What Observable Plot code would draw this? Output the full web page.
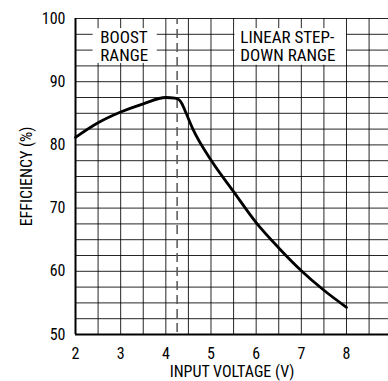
<!DOCTYPE html>
<html>
<head>
<meta charset="utf-8">
<script src="https://cdn.jsdelivr.net/npm/d3@7"></script>
<script src="https://cdn.jsdelivr.net/npm/@observablehq/plot@0.6"></script>
<style>
  html, body { margin: 0; padding: 0; background: #fff; overflow: hidden; }
</style>
</head>
<body>
<div id="chart"></div>
<script>
// Efficiency curve
const voltage    = [2, 2.5, 3, 3.5, 4, 4.2, 4.3, 4.35, 4.45, 4.6, 5, 5.5, 6, 6.5, 7, 7.5, 8];
const efficiency = [81.2, 83.5, 85.2, 86.5, 87.5, 87.4, 87.1, 86.6, 85.0, 82.5, 77.6, 72.6, 67.7, 63.7, 60.1, 57.0, 54.3];

// Axes
const xTicks = [2, 3, 4, 5, 6, 7, 8];
const yTicks = [50, 60, 70, 80, 90, 100];
const xGridLines = [2.5, 3, 3.5, 4, 4.5, 5, 5.5, 6, 6.5, 7, 7.5, 8, 8.5];
const yGridLines = [52.5, 55, 57.5, 60, 62.5, 65, 67.5, 70, 72.5, 75, 77.5, 80, 82.5, 85, 87.5, 90, 92.5, 95, 97.5, 100];

// Range boundary
const boundaryVoltage = [4.25];

// Region labels
const regionLabels = ["BOOST\nRANGE", "LINEAR STEP-\nDOWN RANGE"];
const regionLabelX = [2.55, 5.65];
const regionLabelY = [98.3, 98.3];
const regionBoxX1 = [2.39, 5.53];
const regionBoxX2 = [3.81, 8.0];
const regionBoxY1 = [92.9, 92.6];
const regionBoxY2 = [98.4, 98.4];

const curve = voltage.map((v, i) => ({v, e: efficiency[i]}));
const boxes = regionLabels.map((t, i) => ({t, x: regionLabelX[i], y: regionLabelY[i], x1: regionBoxX1[i], x2: regionBoxX2[i], y1: regionBoxY1[i], y2: regionBoxY2[i]}));

const FONT = "'Liberation Sans Narrow', 'Arial Narrow', 'Roboto Condensed', 'DejaVu Sans Condensed', 'Liberation Sans', sans-serif";

const chart = Plot.plot({
  width: 388,
  height: 381,
  marginLeft: 75,
  marginRight: 0,
  marginTop: 18,
  marginBottom: 47,
  style: {fontFamily: FONT, fontSize: "16px", background: "#fff", color: "#000"},
  x: {domain: [2, 8.93]},
  y: {domain: [50, 100]},
  marks: [
    Plot.ruleX(xGridLines, {stroke: "#000", strokeWidth: 1, strokeOpacity: 0.85}),
    Plot.ruleY(yGridLines, {stroke: "#000", strokeWidth: 1, strokeOpacity: 0.85}),
    Plot.rect(boxes, {x1: "x1", x2: "x2", y1: "y1", y2: "y2", fill: "#fff"}),
    Plot.ruleX(boundaryVoltage, {y1: 50.3, y2: 100, stroke: "#555", strokeWidth: 1.5, strokeDasharray: "9,5"}),
    Plot.ruleX([2], {stroke: "#000", strokeWidth: 2}),
    Plot.ruleY([50], {stroke: "#000", strokeWidth: 2}),
    Plot.line(curve, {x: "v", y: "e", stroke: "#000", strokeWidth: 2.8, curve: "monotone-x"}),
    Plot.text(boxes, {x: "x", y: "y", text: "t", textAnchor: "start", lineAnchor: "top", fontSize: 17, lineHeight: 1.1, fill: "#000"}),
    Plot.axisX(xTicks, {tickSize: 0, tickPadding: 13, label: "INPUT VOLTAGE (V)", labelAnchor: "center", labelArrow: "none", labelOffset: 42}),
    Plot.axisY(yTicks, {tickSize: 0, tickPadding: 10, label: "EFFICIENCY (%)", labelAnchor: "center", labelArrow: "none", labelOffset: 55})
  ]
});
document.getElementById("chart").appendChild(chart);
</script>
</body>
</html>
